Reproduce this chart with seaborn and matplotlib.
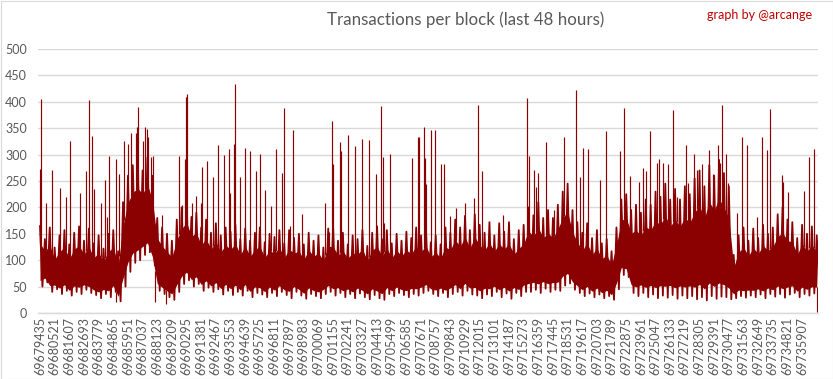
import numpy as np
import pandas as pd
import matplotlib
matplotlib.use('Agg')
import matplotlib.pyplot as plt
import seaborn as sns
from matplotlib.patches import Rectangle

# block numbers on the x axis
first_block = 69679435
label_step = 1086
n_labels = 53
sample_step = 362          # one body sample every third of a label step

# body of the series: highest / lowest tx count seen in each 362-block window
core_hi = [165, 140, 162, 124, 147, 157, 130, 152, 164, 137,
           160, 132, 147, 122, 150, 157, 117, 210, 260, 280,
           290, 270, 295, 260, 180, 162, 150, 137, 177, 200,
           215, 182, 190, 162, 177, 152, 170, 147, 162, 154,
           167, 140, 160, 137, 152, 162, 134, 150, 144, 157,
           132, 157, 142, 150, 130, 152, 137, 147, 124, 160,
           162, 137, 152, 130, 147, 140, 157, 127, 152, 164,
           140, 157, 132, 150, 137, 154, 142, 162, 147, 160,
           134, 147, 130, 162, 152, 177, 162, 184, 157, 187,
           167, 152, 172, 147, 170, 154, 172, 140, 157, 167,
           200, 185, 210, 180, 195, 180, 205, 230, 245, 195,
           172, 152, 170, 142, 157, 132, 140, 117, 162, 215,
           225, 195, 205, 190, 215, 205, 230, 220, 245, 215,
           235, 215, 240, 225, 255, 270, 240, 280, 260, 290,
           265, 240, 110, 147, 162, 137, 160, 142, 167, 150,
           162, 187, 200, 177, 172, 142, 167, 150, 164, 147]
core_lo = [50, 58, 40, 45, 36, 42, 33, 40, 36, 44,
           38, 34, 28, 36, 30, 40, 22, 50, 78, 95,
           100, 110, 115, 90, 42, 36, 30, 25, 40, 55,
           62, 50, 55, 42, 48, 40, 45, 35, 42, 34,
           40, 33, 42, 30, 38, 35, 30, 38, 32, 40,
           34, 28, 40, 33, 27, 36, 32, 28, 36, 40,
           33, 38, 30, 36, 28, 37, 30, 26, 34, 28,
           25, 36, 32, 38, 34, 30, 36, 33, 38, 42,
           36, 32, 38, 30, 36, 40, 33, 42, 35, 33,
           28, 35, 32, 40, 30, 37, 27, 38, 32, 40,
           40, 44, 38, 46, 40, 44, 42, 52, 56, 44,
           38, 32, 37, 30, 35, 28, 32, 25, 45, 72,
           68, 38, 32, 38, 30, 35, 28, 33, 29, 34,
           27, 33, 28, 32, 26, 30, 24, 32, 27, 31,
           30, 26, 28, 32, 29, 33, 30, 35, 28, 36,
           31, 36, 29, 35, 38, 30, 36, 33, 37, 38]

# single busy blocks standing above the body (offset from first block, tx count)
spike_offset = [20, 100, 445, 690, 910, 1480, 1930, 2245, 2985, 3410,
                3655, 3855, 4025, 4520, 4840, 4985, 5135, 5655, 5875, 6245,
                6545, 6745, 7115, 7210, 7285, 7655, 7780, 7905, 8025, 8205,
                8350, 9020, 10325, 10545, 10770, 10820, 10915, 11285, 11535, 11905,
                12030, 12375, 12845, 13215, 13635, 14030, 14080, 14375, 14475, 14845,
                15215, 15585, 15985, 16325, 16695, 17140, 17510, 17955, 18100, 18525,
                18770, 19440, 21140, 21440, 21660, 21735, 22230, 22305, 22845, 23365,
                23885, 24400, 24920, 25290, 25440, 25515, 25960, 27590, 28035, 28110,
                28475, 28530, 28600, 28950, 29295, 29740, 29960, 30405, 30805, 31515,
                32160, 32480, 32775, 34330, 36110, 36260, 36630, 36755, 36925, 37520,
                38110, 38850, 39740, 40035, 40260, 40630, 41520, 41960, 43000, 43295,
                43740, 44410, 44705, 44925, 45225, 45740, 45890, 46185, 46555, 46930,
                47180, 47895, 48040, 48485, 48705, 49075, 49550, 49895, 50265, 50410,
                50560, 50855, 51005, 51670, 52040, 52410, 53150, 53525, 53890, 54115,
                55005, 55080, 55450, 56635, 57000, 57370]
spike_tx = [272, 406, 208, 160, 271, 236, 219, 326, 228, 269,
            403, 335, 235, 208, 252, 182, 297, 292, 263, 326,
            321, 340, 340, 353, 390, 326, 353, 348, 333, 296,
            297, 186, 297, 205, 292, 410, 415, 208, 221, 208,
            276, 288, 258, 318, 299, 310, 227, 321, 434, 258,
            312, 307, 268, 302, 233, 203, 310, 266, 388, 164,
            347, 187, 208, 153, 363, 283, 323, 307, 338, 316,
            329, 327, 263, 392, 295, 170, 302, 293, 334, 334,
            352, 293, 244, 347, 347, 282, 282, 184, 198, 208,
            217, 394, 269, 186, 407, 298, 271, 239, 266, 323,
            195, 334, 422, 257, 312, 310, 252, 345, 307, 388,
            260, 249, 274, 268, 345, 285, 292, 285, 282, 384,
            219, 319, 246, 302, 271, 283, 309, 263, 319, 285,
            394, 301, 246, 189, 334, 319, 182, 333, 308, 386,
            261, 249, 229, 231, 295, 311]

# quiet blocks dropping below the body
dip_offset = [5630, 8520, 9340, 57599]
dip_tx = [21, 20, 17, 2]

RED = '#8B0000'
GRID = '#D9D9D9'
TEXT = '#595959'

sns.set_theme(style='white')
plt.rcParams['font.family'] = ['Lato', 'DejaVu Sans']

fig = plt.figure(figsize=(8.33, 3.79), dpi=100)
ax = fig.add_axes([38 / 833, 66 / 379, 780 / 833, 264 / 379])

hi = np.array(core_hi, dtype=float)
lo = np.array(core_lo, dtype=float)
core_block = first_block + sample_step * np.arange(len(hi))
solid_top = lo + 0.72 * (hi - lo)
solid_bot = lo + 0.1 * (hi - lo)

# the window highs and lows joined in block order give the comb-like edges
zig = pd.DataFrame({
    'block': np.ravel(np.column_stack([core_block, core_block + sample_step // 2])),
    'tx': np.ravel(np.column_stack([hi, lo])),
})
ax.fill_between(core_block, solid_bot, solid_top, color=RED, lw=0)
sns.lineplot(data=zig, x='block', y='tx', ax=ax, color=RED, lw=1.3, estimator=None)

spike_block = first_block + np.array(spike_offset)
ax.vlines(spike_block, np.interp(spike_block, core_block, solid_top), spike_tx,
          color=RED, lw=0.85)
dip_block = first_block + np.array(dip_offset)
ax.vlines(dip_block, dip_tx, np.interp(dip_block, core_block, solid_bot),
          color=RED, lw=0.85)

ax.set_xlim(first_block - 148, first_block + 57650)
ax.set_ylim(0, 500)
ticks = [first_block + label_step * k for k in range(n_labels)]
ax.set_xticks(ticks)
ax.set_xticklabels([str(t) for t in ticks], rotation=90, fontsize=9, color=TEXT)
ax.set_yticks(range(0, 501, 50))
ax.set_yticklabels([str(v) for v in range(0, 501, 50)], fontsize=9, color=TEXT)
ax.tick_params(axis='both', length=0)
ax.tick_params(axis='y', pad=8)
ax.tick_params(axis='x', pad=3)
ax.set_xlabel('')
ax.set_ylabel('')
ax.yaxis.grid(True, color=GRID, lw=1)
ax.set_axisbelow(True)
for side in ['top', 'left', 'right']:
    ax.spines[side].set_visible(False)
ax.spines['bottom'].set_color(GRID)
ax.spines['bottom'].set_linewidth(1)

fig.text(466 / 833, 1 - 20 / 379, 'Transactions per block (last 48 hours)',
         ha='center', va='center', fontsize=12.2, color=TEXT)
fig.text(812 / 833, 1 - 15 / 379, 'graph by @arcange',
         ha='right', va='center', fontsize=9, color='#C00000')
fig.add_artist(Rectangle((0.5 / 833, 0.5 / 379), 1 - 1 / 833, 1 - 1 / 379,
                         transform=fig.transFigure, fill=False, ec=GRID, lw=0.8))

fig.savefig('out.png', dpi=100)
